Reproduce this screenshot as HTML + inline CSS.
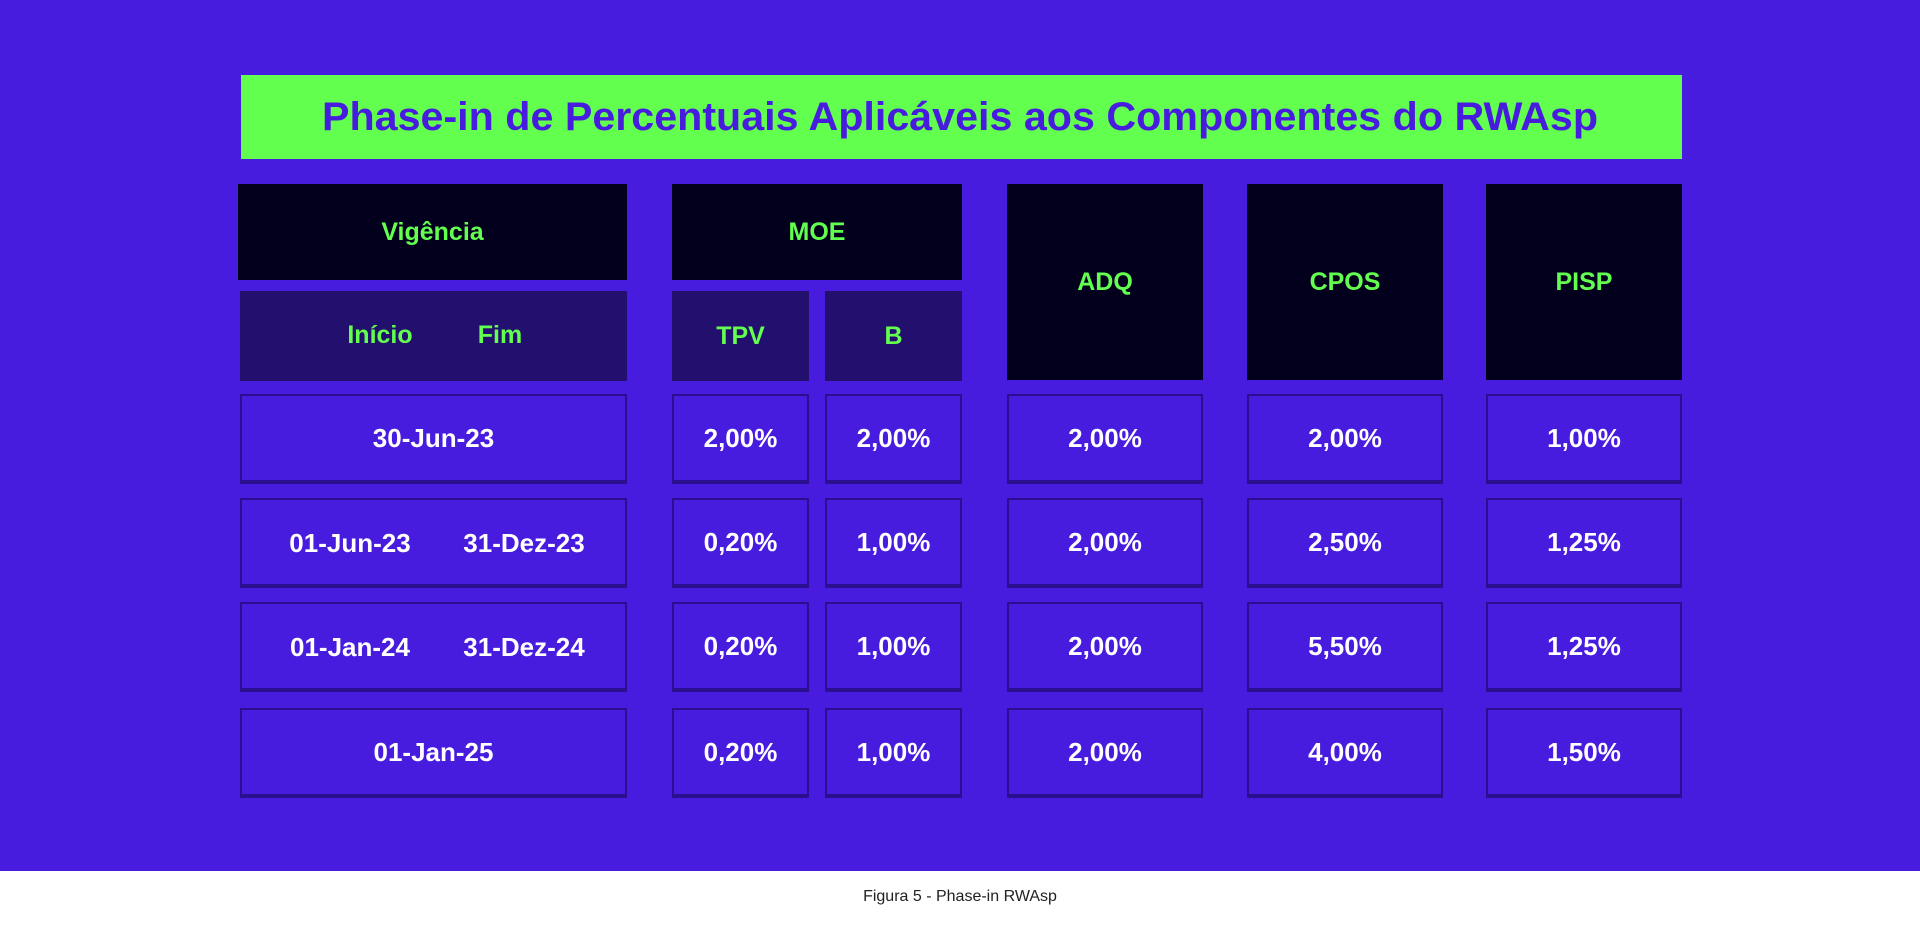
<!DOCTYPE html>
<html><head><meta charset="utf-8"><style>
html,body{margin:0;padding:0}
body{width:1920px;height:926px;position:relative;background:#fff;font-family:"Liberation Sans",sans-serif;overflow:hidden}
#bg{position:absolute;left:0;top:0;width:1920px;height:871px;background:#471cde}
.b{position:absolute;box-sizing:border-box;display:flex;align-items:center;justify-content:center;font-weight:bold}
.h{background:#03001e;color:#63ff4f;font-size:25px}
.s{background:#230f6e;color:#63ff4f;font-size:25px}
.d{background:#471cde;border:2px solid #2a0f8f;border-bottom:4px solid #2a0f8f;color:#fff;font-size:26px}
.t{position:absolute;transform:translateX(-50%);white-space:nowrap}
</style></head><body>
<div id="bg"></div>
<div class="b" style="left:241px;top:75px;width:1441px;height:84px;background:#63ff4f"></div>
<svg style="position:absolute;left:0;top:0" width="1920" height="200"><text x="960" y="130" text-anchor="middle" textLength="1276" lengthAdjust="spacingAndGlyphs" font-family="Liberation Sans" font-weight="bold" font-size="40" fill="#471cde">Phase-in de Percentuais Aplicáveis aos Componentes do RWAsp</text></svg>

<div class="b h" style="left:238px;top:184px;width:389px;height:96px">Vigência</div>
<div class="b h" style="left:672px;top:184px;width:290px;height:96px">MOE</div>
<div class="b s" style="left:240px;top:291px;width:387px;height:90px"><span class="t" style="left:140px;top:30px">Início</span><span class="t" style="left:260px;top:30px">Fim</span></div>
<div class="b s" style="left:672px;top:291px;width:137px;height:90px">TPV</div>
<div class="b s" style="left:825px;top:291px;width:137px;height:90px">B</div>
<div class="b h" style="left:1007px;top:184px;width:196px;height:196px">ADQ</div>
<div class="b h" style="left:1247px;top:184px;width:196px;height:196px">CPOS</div>
<div class="b h" style="left:1486px;top:184px;width:196px;height:196px">PISP</div>

<!-- rows -->
<div class="b d" style="left:240px;top:394px;width:387px;height:90px">30-Jun-23</div>
<div class="b d" style="left:240px;top:498px;width:387px;height:90px"><span class="t" style="left:108px;top:28px">01-Jun-23</span><span class="t" style="left:282px;top:28px">31-Dez-23</span></div>
<div class="b d" style="left:240px;top:602px;width:387px;height:90px"><span class="t" style="left:108px;top:28px">01-Jan-24</span><span class="t" style="left:282px;top:28px">31-Dez-24</span></div>
<div class="b d" style="left:240px;top:708px;width:387px;height:90px">01-Jan-25</div>

<div class="b d" style="left:672px;top:394px;width:137px;height:90px">2,00%</div>
<div class="b d" style="left:672px;top:498px;width:137px;height:90px">0,20%</div>
<div class="b d" style="left:672px;top:602px;width:137px;height:90px">0,20%</div>
<div class="b d" style="left:672px;top:708px;width:137px;height:90px">0,20%</div>

<div class="b d" style="left:825px;top:394px;width:137px;height:90px">2,00%</div>
<div class="b d" style="left:825px;top:498px;width:137px;height:90px">1,00%</div>
<div class="b d" style="left:825px;top:602px;width:137px;height:90px">1,00%</div>
<div class="b d" style="left:825px;top:708px;width:137px;height:90px">1,00%</div>

<div class="b d" style="left:1007px;top:394px;width:196px;height:90px">2,00%</div>
<div class="b d" style="left:1007px;top:498px;width:196px;height:90px">2,00%</div>
<div class="b d" style="left:1007px;top:602px;width:196px;height:90px">2,00%</div>
<div class="b d" style="left:1007px;top:708px;width:196px;height:90px">2,00%</div>

<div class="b d" style="left:1247px;top:394px;width:196px;height:90px">2,00%</div>
<div class="b d" style="left:1247px;top:498px;width:196px;height:90px">2,50%</div>
<div class="b d" style="left:1247px;top:602px;width:196px;height:90px">5,50%</div>
<div class="b d" style="left:1247px;top:708px;width:196px;height:90px">4,00%</div>

<div class="b d" style="left:1486px;top:394px;width:196px;height:90px">1,00%</div>
<div class="b d" style="left:1486px;top:498px;width:196px;height:90px">1,25%</div>
<div class="b d" style="left:1486px;top:602px;width:196px;height:90px">1,25%</div>
<div class="b d" style="left:1486px;top:708px;width:196px;height:90px">1,50%</div>

<div style="position:absolute;left:0;width:1920px;top:888px;text-align:center;font-size:16px;color:#222">Figura 5 - Phase-in RWAsp</div>
</body></html>
